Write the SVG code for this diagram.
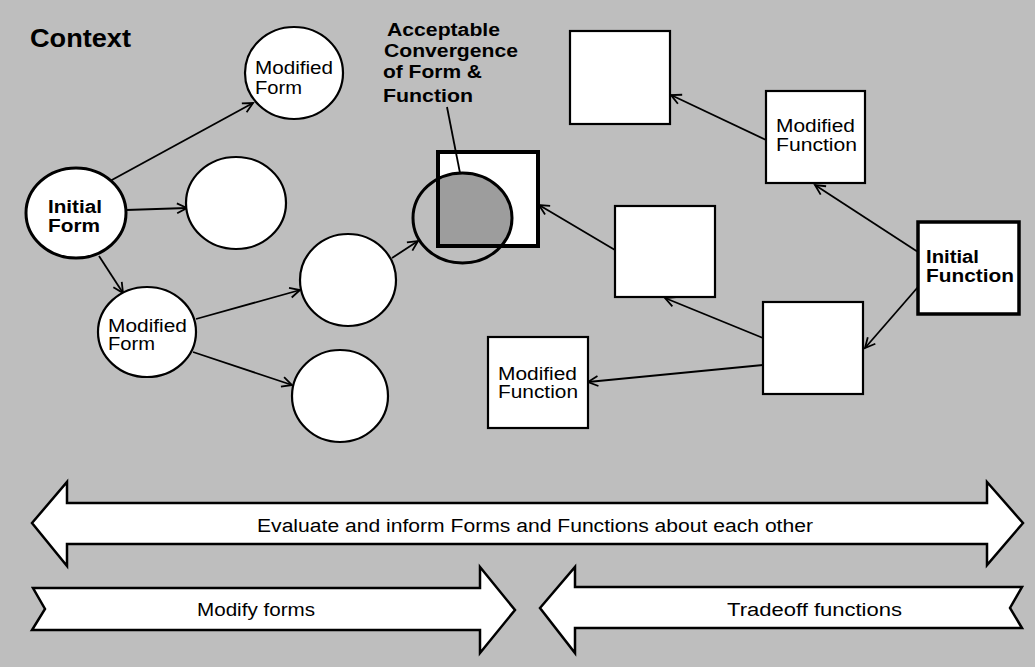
<svg xmlns="http://www.w3.org/2000/svg" width="1035" height="667" viewBox="0 0 1035 667">
<defs>
<style>
.bg{fill:#bebebe}
.node{fill:#fff;stroke:#000;stroke-width:2.2}
.thick{fill:#fff;stroke:#000;stroke-width:3.5}
.lbl{font-family:"Liberation Sans",Arial,sans-serif;font-size:18px;fill:#000}
.b{font-weight:bold}
.conn line{stroke:#000;stroke-width:1.8;marker-end:url(#ah)}
.band{fill:#fff;stroke:#000;stroke-width:2.5;stroke-linejoin:miter}
</style>
<marker id="ah" markerUnits="userSpaceOnUse" markerWidth="14" markerHeight="14" refX="11" refY="6" orient="auto">
<path d="M1,1 L11,6 L1,11" fill="none" stroke="#000" stroke-width="1.8"/>
</marker>
<clipPath id="sqclip"><rect x="438" y="152" width="100" height="94"/></clipPath>
</defs>
<rect class="bg" x="0" y="0" width="1035" height="667"/>
<text class="lbl b" x="30" y="47" style="font-size:26px" textLength="101" lengthAdjust="spacingAndGlyphs">Context</text>

<g class="conn" id="connectors">
<line x1="110" y1="181" x2="253" y2="103"/>
<line x1="126" y1="210" x2="187" y2="208"/>
<line x1="99" y1="256" x2="123" y2="293"/>
<line x1="196" y1="319" x2="300" y2="290"/>
<line x1="193" y1="352" x2="292" y2="385"/>
<line x1="392" y1="258" x2="418" y2="241"/>
<line x1="615" y1="250" x2="539" y2="205"/>
<line x1="766" y1="140" x2="671" y2="95"/>
<line x1="918" y1="252" x2="815" y2="185"/>
<line x1="918" y1="287" x2="865" y2="348"/>
<line x1="763" y1="338" x2="665" y2="298"/>
<line x1="763" y1="365" x2="588" y2="382"/>
</g>

<g id="modified-form-top">
<ellipse class="node" cx="294" cy="73" rx="49" ry="46"/>
<text class="lbl" x="255" y="74" textLength="78" lengthAdjust="spacingAndGlyphs">Modified</text>
<text class="lbl" x="255" y="94" textLength="47" lengthAdjust="spacingAndGlyphs">Form</text>
</g>
<g id="initial-form">
<ellipse class="thick" cx="76" cy="213" rx="50" ry="45" style="stroke-width:3"/>
<text class="lbl b" x="48" y="213" textLength="54" lengthAdjust="spacingAndGlyphs">Initial</text>
<text class="lbl b" x="48" y="232" textLength="52" lengthAdjust="spacingAndGlyphs">Form</text>
</g>
<g id="form-circle-2">
<ellipse class="node" cx="236" cy="203" rx="50" ry="46"/>
</g>
<g id="modified-form-lower">
<ellipse class="node" cx="147" cy="332" rx="49" ry="45"/>
<text class="lbl" x="108" y="332" textLength="79" lengthAdjust="spacingAndGlyphs">Modified</text>
<text class="lbl" x="108" y="350" textLength="47" lengthAdjust="spacingAndGlyphs">Form</text>
</g>
<g id="form-circle-upper">
<ellipse class="node" cx="348" cy="280" rx="48" ry="46"/>
</g>
<g id="form-circle-lower">
<ellipse class="node" cx="340" cy="396" rx="48" ry="46"/>
</g>

<g id="convergence">
<rect x="438" y="152" width="100" height="94" fill="#fff"/>
<ellipse cx="462.5" cy="218" rx="49.5" ry="45" fill="#9d9d9d" clip-path="url(#sqclip)"/>
<rect x="438" y="152" width="100" height="94" fill="none" stroke="#000" stroke-width="4"/>
<ellipse cx="462.5" cy="218" rx="49.5" ry="45" fill="none" stroke="#000" stroke-width="3"/>
<line x1="447" y1="107" x2="460" y2="173" stroke="#000" stroke-width="1.8"/>
<text class="lbl b" x="387" y="36" textLength="113" lengthAdjust="spacingAndGlyphs">Acceptable</text>
<text class="lbl b" x="384" y="57" textLength="134" lengthAdjust="spacingAndGlyphs">Convergence</text>
<text class="lbl b" x="383" y="78" textLength="99" lengthAdjust="spacingAndGlyphs">of Form &amp;</text>
<text class="lbl b" x="383" y="102" textLength="90" lengthAdjust="spacingAndGlyphs">Function</text>
</g>

<g id="function-top">
<rect class="node" x="570" y="31" width="100" height="93"/>
</g>
<g id="modified-function-top">
<rect class="node" x="766" y="91" width="99" height="92"/>
<text class="lbl" x="776" y="132" textLength="79" lengthAdjust="spacingAndGlyphs">Modified</text>
<text class="lbl" x="776" y="151" textLength="81" lengthAdjust="spacingAndGlyphs">Function</text>
</g>
<g id="initial-function">
<rect class="thick" x="918" y="222" width="101" height="92"/>
<text class="lbl b" x="926" y="263" textLength="53" lengthAdjust="spacingAndGlyphs">Initial</text>
<text class="lbl b" x="926" y="282" textLength="88" lengthAdjust="spacingAndGlyphs">Function</text>
</g>
<g id="function-middle">
<rect class="node" x="615" y="206" width="100" height="91"/>
</g>
<g id="function-lower-right">
<rect class="node" x="763" y="302" width="100" height="92"/>
</g>
<g id="modified-function-lower">
<rect class="node" x="488" y="337" width="100" height="91"/>
<text class="lbl" x="498" y="380" textLength="79" lengthAdjust="spacingAndGlyphs">Modified</text>
<text class="lbl" x="498" y="398" textLength="80" lengthAdjust="spacingAndGlyphs">Function</text>
</g>

<g id="evaluate-band">
<polygon class="band" points="32,523 67,482 67,503 987,503 987,482 1023,523 987,565 987,544 67,544 67,566"/>
<text class="lbl" x="257" y="532" textLength="556" lengthAdjust="spacingAndGlyphs">Evaluate and inform Forms and Functions about each other</text>
</g>
<g id="modify-band">
<polygon class="band" points="33,588 480,588 480,567 515,610 480,653 480,630 32,630 45,609"/>
<text class="lbl" x="197" y="616" textLength="118" lengthAdjust="spacingAndGlyphs">Modify forms</text>
</g>
<g id="tradeoff-band">
<polygon class="band" points="540,608 575,567 575,587 1022,587 1010,608 1022,628 575,628 575,653"/>
<text class="lbl" x="727" y="616" textLength="175" lengthAdjust="spacingAndGlyphs">Tradeoff functions</text>
</g>
</svg>
